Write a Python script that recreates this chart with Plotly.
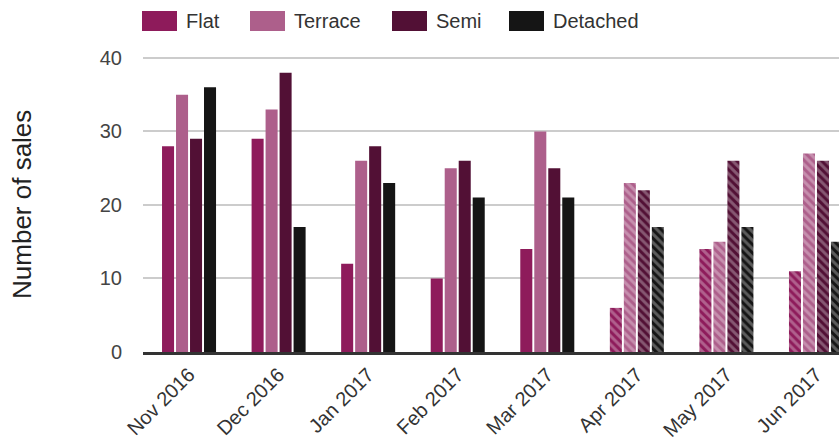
import plotly.graph_objects as go

months = ["Nov 2016", "Dec 2016", "Jan 2017", "Feb 2017", "Mar 2017",
          "Apr 2017", "May 2017", "Jun 2017"]
series_names = ["Flat", "Terrace", "Semi", "Detached"]
flat = [28, 29, 12, 10, 14, 6, 14, 11]
terrace = [35, 33, 26, 25, 30, 23, 15, 27]
semi = [29, 38, 28, 26, 25, 22, 26, 26]
detached = [36, 17, 23, 21, 21, 17, 17, 15]
# months whose figures are provisional get a striped fill
provisional = [False, False, False, False, False, True, True, True]

colors = ["#8e1b5b", "#ad5f8b", "#521035", "#151515"]
values = [flat, terrace, semi, detached]

W, H = 839, 441
Y_TOP = 40.4
ML, MR, MB = 143, 0, 89
unit_px = 7.35
ph = Y_TOP * unit_px
MT = H - MB - ph
pw = W - ML - MR

fig = go.Figure()
xs = list(range(len(months)))
shapes_pat = ["\\" if p else "" for p in provisional]
for name, col, vals in zip(series_names, colors, values):
    fig.add_trace(go.Bar(
        x=xs, y=vals, name=name, showlegend=False,
        marker=dict(color=col, line=dict(width=0),
                    pattern=dict(shape=shapes_pat, fillmode="overlay",
                                 fgcolor="rgba(255,255,255,0.6)",
                                 size=6, solidity=0.5)),
    ))

# legend drawn as wide swatches with labels above the plot
def px_x(p):
    return (p - ML) / pw

def px_y(p):
    return (H - MB - p) / ph

shapes = []
annotations = []
legend_x = [142, 250, 392, 509]
for name, col, lx in zip(series_names, colors, legend_x):
    shapes.append(dict(type="rect", xref="paper", yref="paper",
                       x0=px_x(lx), x1=px_x(lx + 35), y0=px_y(31), y1=px_y(11),
                       fillcolor=col, line=dict(width=0)))
    annotations.append(dict(xref="paper", yref="paper", x=px_x(lx + 42), y=px_y(21),
                            text=name, showarrow=False, xanchor="left", yanchor="middle",
                            font=dict(size=20, color="#333333")))

annotations.append(dict(xref="paper", yref="paper", x=px_x(22), y=px_y(205),
                        text="Number of sales", showarrow=False, textangle=-90,
                        xanchor="center", yanchor="middle",
                        font=dict(size=26, color="#222222")))

fig.update_layout(
    width=W, height=H,
    margin=dict(l=ML, r=MR, t=MT, b=MB, pad=0, autoexpand=False),
    paper_bgcolor="white", plot_bgcolor="white",
    barmode="group", bargap=0.375, bargroupgap=0.14,
    font=dict(family="Liberation Sans, Arial, sans-serif", size=20, color="#444444"),
    shapes=shapes, annotations=annotations,
    xaxis=dict(tickmode="array", tickvals=xs, ticktext=months, tickangle=-45,
               range=[-0.514, 7.257], showgrid=False, zeroline=False,
               showline=True, linecolor="#333333", linewidth=3,
               ticks="", ticklabelstandoff=0, automargin=False,
               tickfont=dict(size=20, color="#333333")),
    yaxis=dict(range=[0, Y_TOP], tickvals=[0, 10, 20, 30, 40], showgrid=True,
               gridcolor="#cccccc", gridwidth=2, zeroline=False,
               ticks="", ticklabelstandoff=20, automargin=False,
               tickfont=dict(size=20, color="#444444")),
)

fig.write_html("out.html")
